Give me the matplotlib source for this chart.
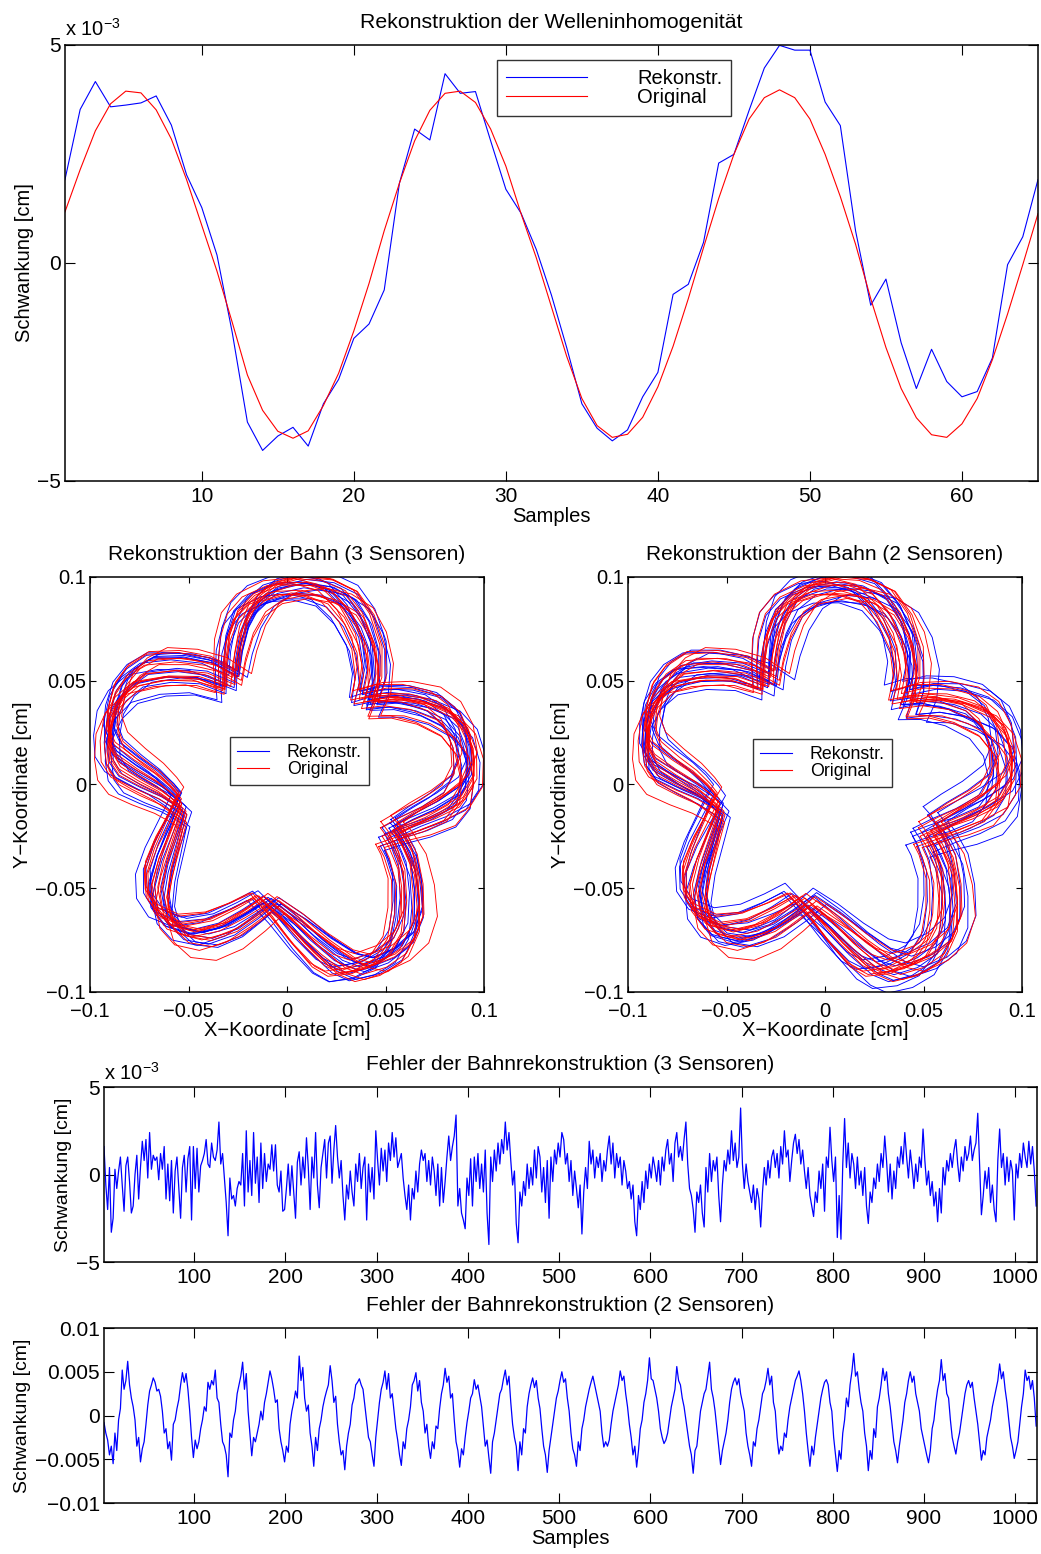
import numpy as np
import matplotlib
matplotlib.use("Agg")
import matplotlib.pyplot as plt
from matplotlib.lines import Line2D

"""
Wave inhomogeneity, orbit reconstruction with 3 and 2 sensors,
and the reconstruction error over all samples.
"""

plt.rcParams['font.family'] = ['Liberation Sans', 'DejaVu Sans']
plt.rcParams['font.size'] = 15
plt.rcParams['axes.linewidth'] = 1.1

MINUS = '\u2212'

# --- wave inhomogeneity, 65 samples, values in 1e-3 cm
wave_samples = np.arange(1, 66)
wave_recon = [1.91, 3.52, 4.16, 3.58, 3.62, 3.67, 3.83, 3.16, 2.02, 1.27,
              0.18, -1.59, -3.65, -4.30, -3.97, -3.77, -4.20, -3.23, -2.67, -1.73,
              -1.40, -0.62, 1.83, 3.07, 2.82, 4.34, 3.89, 3.93, 2.80, 1.69,
              1.14, 0.31, -0.74, -1.94, -3.23, -3.79, -4.08, -3.83, -3.07, -2.51,
              -0.72, -0.49, 0.47, 2.29, 2.49, 3.50, 4.47, 4.99, 4.88, 4.88,
              3.69, 3.15, 0.74, -0.97, -0.37, -1.83, -2.88, -1.98, -2.72, -3.07,
              -2.95, -2.18, -0.04, 0.60, 1.91]
wave_orig = [1.17, 2.14, 3.03, 3.65, 3.94, 3.90, 3.51, 2.84, 1.91, 0.86,
             -0.19, -1.36, -2.57, -3.38, -3.86, -4.02, -3.85, -3.27, -2.53, -1.56,
             -0.47, 0.74, 1.83, 2.80, 3.50, 3.89, 3.94, 3.68, 3.07, 2.22,
             1.13, 0.12, -1.01, -2.14, -3.11, -3.73, -4.00, -3.93, -3.54, -2.84,
             -1.91, -0.82, 0.35, 1.48, 2.49, 3.30, 3.79, 3.97, 3.79, 3.30,
             2.49, 1.52, 0.43, -0.82, -1.94, -2.88, -3.55, -3.94, -4.00, -3.69,
             -3.11, -2.22, -1.17, -0.04, 1.13]

# --- orbit outline (one revolution), values in 1e-3 cm
orbit_x = [51.7, 61.9, 73.8, 85.7, 91.6, 91.6, 87.4, 78.9, 65.3, 51.7,
           39.9, 43.3, 42.4, 36.5, 28.0, 16.1, 2.5, -11.0, -19.5, -24.6,
           -27.1, -28.0, -41.6, -56.8, -72.1, -81.4, -87.4, -89.9, -89.9, -85.7,
           -75.5, -65.3, -57.7, -53.4, -58.5, -63.6, -67.0, -65.3, -58.5, -46.6,
           -33.1, -21.2, -11.0, 0.8, 12.7, 24.6, 33.1, 45.0, 55.1, 61.1,
           61.9, 60.2, 55.1]
orbit_y = [-23.6, -18.8, -14.0, -7.5, 2.1, 14.9, 26.2, 34.2, 39.0, 40.6,
           39.0, 50.2, 64.7, 79.1, 89.6, 94.4, 95.2, 91.2, 84.0, 72.7,
           59.9, 48.6, 54.3, 55.9, 54.3, 47.8, 39.0, 27.8, 18.1, 10.9,
           4.5, -1.1, -6.7, -10.8, -23.6, -36.4, -49.3, -60.5, -68.5, -71.7,
           -68.5, -62.1, -55.7, -65.3, -76.6, -86.2, -89.4, -86.2, -79.8, -68.5,
           -54.1, -39.6, -28.4]

# per revolution: rotation [deg], scale, shift x/y [1e-3 cm]
orig_rot = [-9, -6, -4, -2, -1, 0, 2, 3, 5, 7, 9, -7, 1, 4, -3, 6]
orig_scale = [1.00, 0.97, 1.03, 1.05, 0.98, 1.02, 0.96, 1.04,
              1.01, 0.99, 1.06, 0.97, 1.02, 0.95, 1.03, 1.00]
orig_dx = [2, -1, 0, 3, -2, 1, -3, 0, 2, -1, 1, -2, 3, -3, 0, 1]
orig_dy = [1, -2, 3, 0, -1, 2, 0, -3, 1, 2, -2, 0, -1, 1, 3, -2]

rec3_rot = [-8, -5, -3, -1, 0, 2, 4, 6, 8, -6, 1, 9, -2, 3, 5, -4]
rec3_scale = [1.01, 0.98, 1.04, 0.99, 1.02, 0.97, 1.05, 1.00,
              0.96, 1.03, 1.00, 0.98, 1.06, 0.95, 1.02, 0.99]
rec3_dx = [1, -2, 2, 0, -1, 3, -2, 1, 0, -3, 2, -1, 3, -2, 1, 0]
rec3_dy = [-1, 2, 0, -2, 3, -1, 1, 2, -3, 0, 1, -2, 2, -1, 0, 3]

rec2_rot = [-9, -6, -3, 0, 2, 4, 6, -5, -1, 3, 8, 1, -7, 5, -2, 7]
rec2_scale = [1.02, 0.97, 1.05, 0.98, 1.03, 0.96, 1.04, 1.00,
              0.99, 1.06, 0.97, 1.01, 0.95, 1.03, 1.00, 0.98]
rec2_dx = [5, -4, 2, -6, 3, -2, 6, -5, 1, 4, -3, 0, -5, 2, 5, -1]
rec2_dy = [-3, 5, -5, 2, 4, -4, 1, 3, -6, 0, 5, -2, -1, 6, -4, 2]

# --- reconstruction error, every second sample, values in 1e-4 cm
err_samples = np.arange(1, 1024, 2)
err3 = [16, -6, -20, 4, -33, -25, 3, -8, 2, 10, -6, -21, 5, 10, -4, -22,
        -18, 0, 11, -14, 4, 19, 8, 20, -2, 24, 3, 11, 8, 10, -3, 12,
        3, 16, -14, 6, -15, 8, -22, 2, 10, -8, -25, 4, 11, -10, 9, 16,
        -26, 16, -8, 15, -10, 5, 8, 12, 20, 6, 4, 18, 10, 8, 14, 30,
        6, 12, -2, -16, -35, -2, -14, -12, -18, -8, -4, -6, 12, -18, 25, -10,
        8, -12, 24, -5, 10, -16, 18, -8, 12, -4, 6, 3, 17, 2, 17, -6,
        -10, 2, -21, -20, -8, 6, -12, 5, -10, -25, 7, 13, -6, 10, -2, 21,
        4, -20, 10, -2, 24, -6, -19, 4, 12, 20, -2, 18, 22, -5, 14, 28,
        10, -2, 8, -12, -26, -6, -14, 2, -10, -18, 6, -4, 12, -8, 4, 10,
        -26, 6, -10, 4, -14, 25, 8, -6, 15, 2, 14, -4, 18, 8, 24, 10,
        21, 4, 8, 12, -2, -12, -20, -6, -26, -8, -14, 2, -10, 6, 14, 8,
        12, -4, 8, -6, 10, 2, -12, 6, -18, 4, -16, -4, 10, 22, 8, 16,
        22, 34, -18, -8, -22, -26, -31, -2, -12, 9, -18, 10, -4, 12, -8, 6,
        -10, 14, -22, -40, 10, -4, 14, 2, 18, 6, 20, 12, 30, 14, 24, 8,
        -6, 2, -28, -39, -10, -18, -4, -12, 6, -8, 4, -6, 14, -2, 16, 10,
        -10, 4, -16, 8, -25, 10, -4, 14, 6, 18, 10, 24, 20, 6, 12, -4,
        8, -12, 2, -8, -19, -6, -34, -10, 4, -8, 19, 6, 14, -2, 10, 4,
        12, -4, 8, 2, 14, 22, 6, 18, -2, 12, 4, 10, -6, 8, 2, -8,
        -4, -14, -6, -27, -35, -12, -20, -4, -16, 2, -8, 6, -2, 10, 4, -4,
        8, -6, 10, 2, 14, 20, 6, 12, -4, 18, 24, 10, 16, 8, 20, 30,
        6, -8, -12, -20, -33, -10, -16, -6, -22, -30, 4, -10, 12, -4, 8, 2,
        10, -12, -27, -6, 8, 2, 14, 6, 25, 8, 18, 4, 10, 38, 6, -8,
        6, -4, -10, -16, -6, -20, -8, -14, -30, -10, 4, -6, 8, -2, 10, 14,
        4, 12, -2, 16, 6, 25, 10, 14, -4, 8, 18, 23, 12, 20, 6, 14,
        2, -8, 4, -12, -18, -24, -10, -16, 2, -8, 6, -21, 10, 4, 27, 8,
        -4, 10, -36, -12, -37, 6, 32, 4, 18, -2, 12, 6, -8, 10, -6, 2,
        -12, 4, -18, -28, -10, -16, -2, -8, 6, -4, 12, 4, 22, 8, -10, 6,
        -14, 2, -8, 10, 4, 16, 6, 24, 10, -2, 14, 4, -8, 6, -4, 10,
        4, 26, 8, -6, 2, -12, -4, -18, -10, -27, -8, -22, 4, -6, 8, 2,
        12, 4, 14, 20, 6, -4, 10, 2, 16, 8, 12, 22, 8, 14, 18, 35,
        6, -23, -12, 2, -8, 4, -16, -6, -20, -27, 8, 26, 4, 12, -6, 10,
        -4, 8, 2, -26, 6, -2, 12, 4, 18, 10, 4, 19, 6, 16, 2, -18]
err2 = [-8, -20, -28, -45, -35, -55, -20, -40, -5, 8, 52, 30, 40, 62, 35, 20,
        10, -5, -35, -25, -53, -38, -30, -10, 12, 28, 35, 43, 38, 28, 30, 22,
        5, -20, -15, -38, -30, -51, -10, -5, 8, 18, 35, 49, 38, 48, 30, 5,
        -25, -48, -28, -38, -30, -15, -5, 10, 5, 38, 30, 40, 35, 52, 20, 15,
        -10, -30, -35, -45, -70, -20, -25, -5, 5, 25, 35, 45, 61, 30, 48, 5,
        -20, -46, -25, -30, -20, -10, 5, -5, 15, 25, 38, 51, 42, 30, 15, 18,
        -15, -30, -40, -53, -35, -42, -10, 5, 15, 28, 20, 68, 40, 55, 20, 5,
        12, -20, -35, -58, -25, -40, -15, -5, 10, 20, 28, 35, 57, 40, 15, 22,
        -10, -30, -45, -40, -62, -35, -20, -10, 12, 20, 35, 38, 42, 35, 30, 12,
        -5, -25, -30, -45, -58, -25, -5, 15, 30, 38, 51, 30, 48, 20, 25, 5,
        -15, -28, -45, -57, -30, -38, -15, -5, 10, 35, 40, 49, 28, 40, 15, 5,
        -20, -10, -35, -49, -30, -38, -12, -15, 8, 25, 35, 54, 38, 45, 20, 25,
        -5, -30, -40, -59, -38, -45, -25, -8, 5, 20, 25, 41, 30, 35, 22, 10,
        -12, -35, -28, -48, -66, -30, -20, -5, 10, 25, 30, 42, 52, 35, 45, 15,
        -10, -25, -35, -63, -30, -45, -15, -20, 10, 25, 35, 43, 32, 40, 20, 8,
        -15, -35, -45, -65, -40, -25, -10, 5, 20, 28, 40, 50, 38, 42, 20, 5,
        -20, -38, -45, -58, -30, -40, -15, -5, 10, 20, 30, 38, 45, 35, 25, 15,
        5, -20, -36, -30, -35, -28, -10, 5, 15, 25, 35, 51, 40, 45, 25, 10,
        -10, -25, -45, -35, -59, -40, -15, -5, 15, 25, 40, 66, 42, 40, 30, 20,
        5, -15, -25, -32, -28, -20, -5, 10, 20, 30, 56, 40, 35, 20, 10, -5,
        -20, -35, -45, -66, -40, -35, -15, 5, 15, 25, 30, 45, 61, 30, 20, 5,
        -15, -35, -56, -40, -30, -20, -5, 15, 30, 38, 43, 35, 42, 25, 15, 5,
        -20, -35, -45, -58, -30, -35, -15, -5, 10, 25, 30, 40, 54, 35, 45, 15,
        5, -25, -44, -35, -40, -20, -25, -5, 10, 20, 30, 40, 45, 51, 40, 25,
        5, -20, -40, -58, -35, -45, -25, -10, 5, 20, 30, 38, 41, 35, 15, 5,
        -25, -45, -64, -40, -50, -20, -5, 20, 10, 35, 50, 71, 45, 50, 30, 15,
        5, -20, -35, -63, -40, -50, -15, -25, 10, 20, 35, 54, 40, 50, 25, 10,
        -10, -30, -40, -54, -35, -20, -5, 15, 25, 40, 50, 38, 45, 25, 15, 5,
        -15, -25, -35, -45, -54, -40, -15, -5, 15, 30, 40, 64, 40, 48, 25, 20,
        -5, -25, -35, -44, -30, -20, -5, 10, 25, 35, 40, 32, 38, 20, 5, -10,
        -30, -51, -40, -45, -25, -15, -5, 10, 20, 30, 40, 59, 42, 50, 30, 15,
        -5, -25, -35, -49, -40, -30, -10, 10, 25, 52, 40, 45, 30, 40, 20, -12]


def style_axes(ax, ticklen=7, labelsize=15, xpad=4):
    """MATLAB-like box: ticks inside on all four sides"""
    ax.tick_params(direction='in', top=True, right=True, length=ticklen,
                   width=0.8, labelsize=labelsize)
    ax.tick_params(axis='x', pad=xpad)
    ax.tick_params(axis='y', pad=3)


def orbit_loop(rot, scale, dx, dy):
    """One revolution of the orbit outline, turned, scaled and shifted (in cm)"""
    a = np.deg2rad(rot)
    bx = np.array(orbit_x + orbit_x[:1])
    by = np.array(orbit_y + orbit_y[:1])
    x = scale * (bx * np.cos(a) - by * np.sin(a)) + dx
    y = scale * (bx * np.sin(a) + by * np.cos(a)) + dy
    return x * 1e-3, y * 1e-3


def add_legend(ax, anchor, fontsize, handlelength, textpad, borderpad):
    handles = [Line2D([], [], color='b', lw=0.8), Line2D([], [], color='r', lw=0.8)]
    leg = ax.legend(handles, ['Rekonstr.', 'Original'], loc='upper left',
                    bbox_to_anchor=anchor, borderaxespad=0,
                    handlelength=handlelength, handletextpad=textpad,
                    labelspacing=0.0, borderpad=borderpad, fancybox=False,
                    fontsize=fontsize)
    leg.get_frame().set_edgecolor('k')
    leg.get_frame().set_linewidth(1.0)


def plot_wave(ax):
    ax.plot(wave_samples, np.array(wave_recon) * 1e-3, color='b', lw=0.8)
    ax.plot(wave_samples, np.array(wave_orig) * 1e-3, color='r', lw=0.8)
    ax.set_xlim(1, 65)
    ax.set_ylim(-5e-3, 5e-3)
    ax.set_xticks([10, 20, 30, 40, 50, 60])
    ax.set_yticks([-5e-3, 0, 5e-3])
    ax.set_yticklabels([MINUS + '5', '0', '5'])
    style_axes(ax, 7)
    ax.set_title('Rekonstruktion der Welleninhomogenität', fontsize=15.3, pad=12)
    ax.set_xlabel('Samples', fontsize=14.5, labelpad=1)
    ax.set_ylabel('Schwankung [cm]', fontsize=14.5, labelpad=2)
    ax.text(0.0, 1.012, r'x 10$^{\mathregular{-3}}$', transform=ax.transAxes,
            ha='left', va='bottom', fontsize=14.5)
    add_legend(ax, (0.444, 0.966), 14.5, 4.0, 2.5, 0.45)


def plot_orbit(ax, rec, title, legend_xy):
    rot, scale, dx, dy = rec
    for k in range(len(rot)):
        x, y = orbit_loop(rot[k], scale[k], dx[k], dy[k])
        ax.plot(x, y, color='b', lw=0.65)
    for k in range(len(orig_rot)):
        x, y = orbit_loop(orig_rot[k], orig_scale[k], orig_dx[k], orig_dy[k])
        ax.plot(x, y, color='r', lw=0.65)
    ax.set_xlim(-0.1, 0.1)
    ax.set_ylim(-0.1, 0.1)
    ticks = [-0.1, -0.05, 0, 0.05, 0.1]
    labels = [MINUS + '0.1', MINUS + '0.05', '0', '0.05', '0.1']
    ax.set_xticks(ticks)
    ax.set_xticklabels(labels)
    ax.set_yticks(ticks)
    ax.set_yticklabels(labels)
    style_axes(ax, 4, 14.5, xpad=7)
    ax.set_title(title, fontsize=15, pad=12)
    ax.set_xlabel('X' + MINUS + 'Koordinate [cm]', fontsize=14.5, labelpad=0)
    ax.set_ylabel('Y' + MINUS + 'Koordinate [cm]', fontsize=14.5, labelpad=2)
    add_legend(ax, legend_xy, 12.8, 1.8, 1.0, 0.4)


def plot_error(ax, values, title, scale, yticks, ylabels, offset_text, xlabel):
    ax.plot(err_samples, np.array(values) * 1e-4, color='b', lw=0.9)
    ax.set_xlim(1, 1024)
    ax.set_ylim(-scale, scale)
    ax.set_xticks(np.arange(100, 1001, 100))
    ax.set_yticks(yticks)
    ax.set_yticklabels(ylabels)
    style_axes(ax, 7)
    ax.set_title(title, fontsize=15, pad=12)
    ax.set_ylabel('Schwankung [cm]', fontsize=14, labelpad=3)
    if offset_text:
        ax.text(0.0, 1.02, r'x 10$^{\mathregular{-3}}$', transform=ax.transAxes,
                ha='left', va='bottom', fontsize=14.5)
    if xlabel:
        ax.set_xlabel(xlabel, fontsize=14.5, labelpad=1)


def main():
    fig = plt.figure(figsize=(10.41, 15.54), dpi=100)

    ax_wave = fig.add_axes([0.0624, 0.6905, 0.9347, 0.2806])
    ax_orb3 = fig.add_axes([0.0865, 0.3617, 0.3785, 0.2671])
    ax_orb2 = fig.add_axes([0.6033, 0.3617, 0.3785, 0.2671])
    ax_err3 = fig.add_axes([0.0999, 0.1879, 0.8963, 0.1126])
    ax_err2 = fig.add_axes([0.0999, 0.0328, 0.8963, 0.1126])

    plot_wave(ax_wave)
    plot_orbit(ax_orb3, (rec3_rot, rec3_scale, rec3_dx, rec3_dy),
               'Rekonstruktion der Bahn (3 Sensoren)', (0.355, 0.614))
    plot_orbit(ax_orb2, (rec2_rot, rec2_scale, rec2_dx, rec2_dy),
               'Rekonstruktion der Bahn (2 Sensoren)', (0.317, 0.610))
    plot_error(ax_err3, err3, 'Fehler der Bahnrekonstruktion (3 Sensoren)', 5e-3,
               [-5e-3, 0, 5e-3], [MINUS + '5', '0', '5'], True, None)
    plot_error(ax_err2, err2, 'Fehler der Bahnrekonstruktion (2 Sensoren)', 0.01,
               [-0.01, -0.005, 0, 0.005, 0.01],
               [MINUS + '0.01', MINUS + '0.005', '0', '0.005', '0.01'], False, 'Samples')

    fig.savefig('out.png', dpi=100)


if __name__ == "__main__":
    main()
